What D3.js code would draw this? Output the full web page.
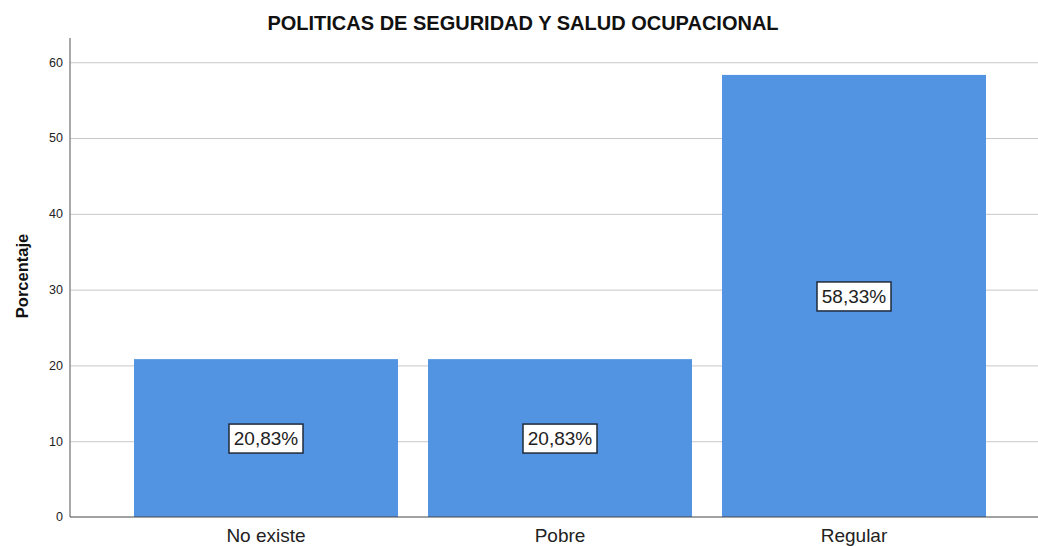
<!DOCTYPE html>
<html>
<head>
<meta charset="utf-8">
<script src="https://cdn.jsdelivr.net/npm/d3@7"></script>
<style>
  body { margin: 0; background: #fff; }
  svg { font-family: "Liberation Sans", Arial, sans-serif; }
  .grid line { stroke: #c8c8c8; stroke-width: 1; }
  .grid path { display: none; }
</style>
</head>
<body>
<svg class="chart" width="1038" height="546"></svg>
<script>
var categories = ["No existe", "Pobre", "Regular"];
var percents = [20.83, 20.83, 58.33];
var labels = ["20,83%", "20,83%", "58,33%"];
var yTicks = [0, 10, 20, 30, 40, 50, 60];

var svg = d3.select(".chart"),
    margin = {top: 38, right: 0, bottom: 29, left: 70},
    width = +svg.attr("width") - margin.left - margin.right,
    height = +svg.attr("height") - margin.top - margin.bottom;

var y = d3.scaleLinear().domain([0, 63.2]).range([height, 0]);
var x = d3.scaleBand().domain(categories)
    .range([0, 980])
    .paddingInner(30 / 294)
    .paddingOuter(64 / 294);

var g = svg.append("g")
    .attr("transform", "translate(" + margin.left + "," + margin.top + ")");

// gridlines
g.append("g")
    .attr("class", "grid")
    .call(d3.axisLeft(y).tickValues(yTicks.slice(1)).tickSize(-width).tickFormat(""));

// bars
g.selectAll(".bar")
    .data(percents)
  .enter().append("rect")
    .attr("class", "bar")
    .attr("x", function(d, i) { return x(categories[i]); })
    .attr("width", x.bandwidth())
    .attr("y", function(d) { return y(d); })
    .attr("height", function(d) { return height - y(d); })
    .attr("fill", "#5294e2");

// y axis line
g.append("line")
    .attr("x1", 0).attr("x2", 0)
    .attr("y1", 0).attr("y2", height)
    .attr("stroke", "#8c8c8c").attr("stroke-width", 1.5);

// tick labels
g.selectAll(".ytick")
    .data(yTicks)
  .enter().append("text")
    .attr("class", "ytick")
    .attr("x", -7)
    .attr("y", function(d) { return y(d); })
    .attr("dy", "0.35em")
    .attr("text-anchor", "end")
    .attr("font-size", 12.5)
    .attr("fill", "#222")
    .text(function(d) { return d; });

// bottom axis line
g.append("line")
    .attr("x1", 0).attr("x2", width)
    .attr("y1", height).attr("y2", height)
    .attr("stroke", "#444").attr("stroke-width", 1);

// x labels
g.selectAll(".xlabel")
    .data(categories)
  .enter().append("text")
    .attr("class", "xlabel")
    .attr("x", function(d) { return x(d) + x.bandwidth() / 2; })
    .attr("y", height + 25)
    .attr("text-anchor", "middle")
    .attr("font-size", 19)
    .attr("fill", "#222")
    .text(function(d) { return d; });

// value boxes
var box = g.selectAll(".vbox")
    .data(percents)
  .enter().append("g")
    .attr("class", "vbox")
    .attr("transform", function(d, i) {
      return "translate(" + (x(categories[i]) + x.bandwidth() / 2) + "," + y(d / 2) + ")";
    });
box.append("rect")
    .attr("x", -37).attr("y", -14)
    .attr("width", 74).attr("height", 29)
    .attr("fill", "#fff")
    .attr("stroke", "#1f2a3a").attr("stroke-width", 1.5);
box.append("text")
    .attr("text-anchor", "middle")
    .attr("dy", "0.36em")
    .attr("font-size", 19)
    .attr("fill", "#222")
    .text(function(d, i) { return labels[i]; });

// title
svg.append("text")
    .attr("x", 523)
    .attr("y", 30)
    .attr("text-anchor", "middle")
    .attr("font-size", 20)
    .attr("font-weight", "bold")
    .attr("fill", "#111")
    .text("POLITICAS DE SEGURIDAD Y SALUD OCUPACIONAL");

// y label
svg.append("text")
    .attr("transform", "rotate(-90)")
    .attr("x", -276)
    .attr("y", 28)
    .attr("text-anchor", "middle")
    .attr("font-size", 16.5)
    .attr("font-weight", "bold")
    .attr("fill", "#111")
    .text("Porcentaje");
</script>
</body>
</html>
